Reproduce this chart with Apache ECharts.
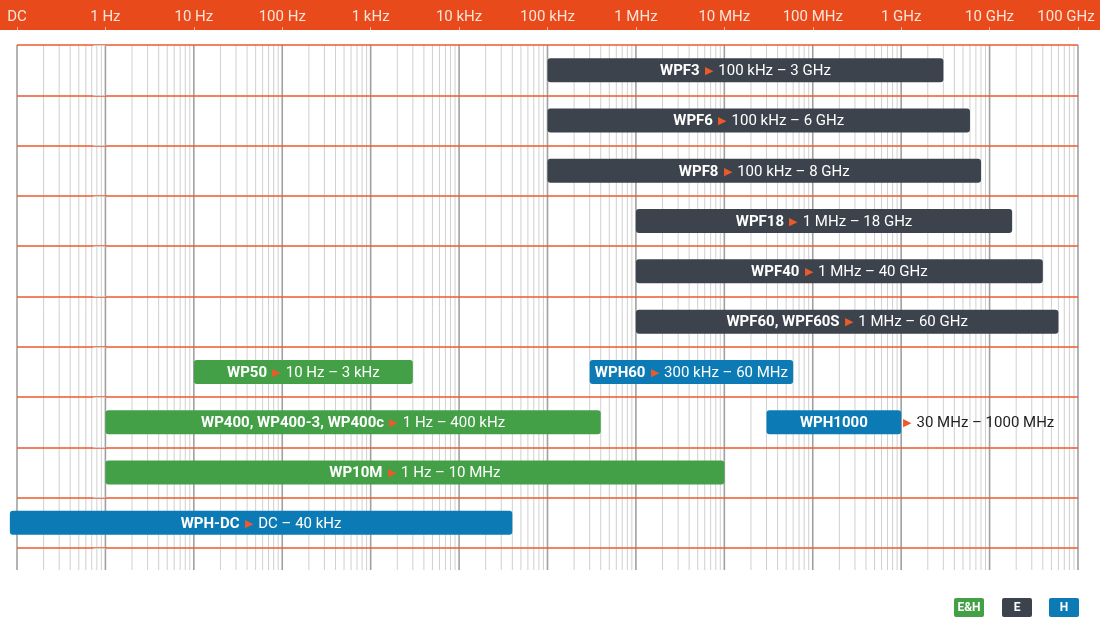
<!DOCTYPE html>
<html>
<head>
<meta charset="utf-8">
<script src="https://cdn.jsdelivr.net/npm/echarts@6/dist/echarts.min.js"></script>
<style>
html,body{margin:0;padding:0;background:#fff;}
#chart{width:1100px;height:617px;}
</style>
</head>
<body>
<div id="chart"></div>
<script>
// ---- data ----
var tickLabels = ['DC','1 Hz','10 Hz','100 Hz','1 kHz','10 kHz','100 kHz','1 MHz','10 MHz','100 MHz','1 GHz','10 GHz','100 GHz'];
var productNames = ['WPF3','WPF6','WPF8','WPF18','WPF40','WPF60, WPF60S','WP50','WPH60','WP400, WP400-3, WP400c','WPH1000','WP10M','WPH-DC'];
var productRows  = [0,1,2,3,4,5,6,6,7,7,8,9];
var rangeStart   = [1e5,1e5,1e5,1e6,1e6,1e6,10,3e5,1,3e7,1,0.083];
var rangeEnd     = [3e9,6e9,8e9,1.8e10,4e10,6e10,3e3,6e7,4e5,1e9,1e7,4e4];
var rangeText    = ['100 kHz – 3 GHz','100 kHz – 6 GHz','100 kHz – 8 GHz','1 MHz – 18 GHz','1 MHz – 40 GHz','1 MHz – 60 GHz','10 Hz – 3 kHz','300 kHz – 60 MHz','1 Hz – 400 kHz','30 MHz – 1000 MHz','1 Hz – 10 MHz','DC – 40 kHz'];
var productType  = ['E','E','E','E','E','E','E&H','H','E&H','H','E&H','H'];
var legendTypes  = ['E&H','E','H'];

var typeColor = {'E&H':'#43a046','E':'#3c434c','H':'#0c7bb5'};
var ORANGE = '#ec5a2b';
var FONT = 'Roboto, "Noto Sans", sans-serif';
var FS = 15;

var measureCtx = document.createElement('canvas').getContext('2d');
function textW(t, bold, size){ measureCtx.font = (bold?'bold ':'') + (size||FS) + 'px ' + FONT; return measureCtx.measureText(t).width; }

// grid line values (axis decoration)
var gridVals = [];
for (var e = -1; e <= 10; e++) {
  for (var m = 1; m <= 9; m++) gridVals.push([m * Math.pow(10, e), m === 1 ? 1 : 0]);
}
gridVals.push([1e11, 1]);

var barData = productNames.map(function(n, i){
  return [rangeStart[i], rangeEnd[i], productRows[i] + 0.5, i];
});

var chart = echarts.init(document.getElementById('chart'), null, {renderer:'canvas'});

var rich = {
  b: {fontWeight: 'bold', fontSize: FS, fontFamily: FONT, fill: '#fff'},
  a: {fontSize: 11, fontFamily: FONT, fill: ORANGE, padding: [0, 2, 0, 2]},
  n: {fontSize: FS, fontFamily: FONT, fill: '#fff'},
  nd: {fontSize: FS, fontFamily: FONT, fill: '#222'}
};

var option = {
  animation: false,
  backgroundColor: '#fff',
  grid: {left: 17, right: 22, top: 45, bottom: 69, containLabel: false, outerBoundsMode: 'none'},
  xAxis: [{
    type: 'log', logBase: 10, min: 0.1, max: 1e11,
    show: false,
    splitLine: {show: false}
  }, {
    type: 'value', min: -1, max: 11, interval: 1,
    position: 'top', offset: 15,
    axisLine: {show: false},
    axisTick: {show: true, length: 3, lineStyle: {color: '#f6b59c', width: 1}},
    axisLabel: {
      color: '#fde4d8', fontSize: 15, fontFamily: FONT, margin: 5,
      showMinLabel: true, showMaxLabel: true, hideOverlap: false,
      rich: {last: {color: '#fde4d8', fontSize: 15, fontFamily: FONT, padding: [0, 24, 0, 0]}},
      formatter: function(v){
        var i = Math.round(v) + 1;
        var t = tickLabels[i] || '';
        return i === tickLabels.length - 1 ? '{last|' + t + '}' : t;
      }
    },
    splitLine: {show: false}
  }],
  yAxis: {
    type: 'value', inverse: true, min: 0, max: 10, interval: 1, z: 1,
    axisLine: {show: false},
    axisLabel: {show: false},
    axisTick: {show: true, length: 12, lineStyle: {color: '#cfcfcf'}},
    splitLine: {show: true, lineStyle: {color: ORANGE, width: 1.5}}
  },
  graphic: [
    {type: 'rect', z: -10, silent: true, shape: {x: 0, y: 0, width: 1100, height: 30}, style: {fill: '#e84a1c'}}
  ].concat(legendTypes.map(function(t, i){
    var xs = [954, 1002, 1049];
    return {
      type: 'group', left: xs[i], top: 598,
      children: [
        {type: 'rect', shape: {x: 0, y: 0, width: 30, height: 19, r: 2}, style: {fill: typeColor[t]}},
        {type: 'text', style: {x: 15, y: 10, text: t, fill: '#fff', font: 'bold 12px ' + FONT, align: 'center', verticalAlign: 'middle'}}
      ]
    };
  })),
  series: [
    {
      type: 'custom', name: 'grid', silent: true, z: 0, clip: false, xAxisIndex: 0,
      data: gridVals,
      renderItem: function(params, api){
        var p1 = api.coord([api.value(0), 0]);
        var p2 = api.coord([api.value(0), 10]);
        var major = api.value(1) === 1;
        return {
          type: 'line',
          shape: {x1: p1[0], y1: p1[1], x2: p2[0], y2: p2[1] + 22},
          style: {stroke: major ? '#a0a0a0' : '#d0d0d0', lineWidth: major ? 1.6 : 1}
        };
      }
    },
    {
      type: 'custom', name: 'products', z: 3, clip: false, xAxisIndex: 0,
      data: barData,
      renderItem: function(params, api){
        var i = api.value(3);
        var a = api.coord([api.value(0), api.value(2)]);
        var b = api.coord([api.value(1), api.value(2)]);
        var h = 24, w = b[0] - a[0], cy = a[1];
        var name = productNames[i], rng = rangeText[i];
        var full = textW(name, true) + textW(' ', false) * 2 + textW('▶', false, 11) + 4 + textW(rng, false);
        var outside = full + 4 > w;
        var children = [{
          type: 'rect',
          shape: {x: a[0], y: cy - h/2, width: w, height: h, r: 3},
          style: {fill: typeColor[productType[i]]}
        }];
        if (!outside) {
          children.push({
            type: 'text',
            style: {x: a[0] + w/2, y: cy + 1, align: 'center', verticalAlign: 'middle',
              text: '{b|' + name + '} {a|▶} {n|' + rng + '}', rich: rich}
          });
        } else {
          children.push({
            type: 'text',
            style: {x: a[0] + w/2, y: cy + 1, align: 'center', verticalAlign: 'middle',
              text: '{b|' + name + '}', rich: rich}
          });
          children.push({
            type: 'text',
            style: {x: b[0], y: cy + 1, align: 'left', verticalAlign: 'middle',
              text: '{a|▶} {nd|' + rng + '}', rich: rich}
          });
        }
        return {type: 'group', children: children};
      }
    }
  ]
};
chart.setOption(option);
</script>
</body>
</html>
